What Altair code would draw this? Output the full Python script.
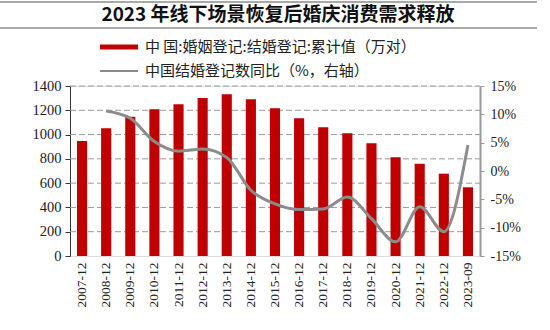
import altair as alt
import pandas as pd

periods = ["2007-12", "2008-12", "2009-12", "2010-12", "2011-12", "2012-12", "2013-12",
           "2014-12", "2015-12", "2016-12", "2017-12", "2018-12", "2019-12", "2020-12",
           "2021-12", "2022-12", "2023-09"]
marriages = [947, 1052, 1147, 1208, 1249, 1301, 1332, 1291, 1216, 1134, 1060, 1011, 928,
             813, 760, 678, 566]
yoy = [None, 10.6, 9.3, 5.2, 3.5, 3.9, 2.4, -3.4, -5.8, -6.8, -6.7, -4.6, -8.4, -12.5,
       -6.3, -10.7, 4.6]
grid_levels = [200, 400, 600, 800, 1000, 1200, 1400]

title_text = "2023 年线下场景恢复后婚庆消费需求释放"
legend_bar = "中 国:婚姻登记:结婚登记:累计值（万对）"
legend_line = "中国结婚登记数同比（%，右轴）"

df = pd.DataFrame({"period": periods, "marriages": marriages, "yoy": yoy})
gdf = pd.DataFrame({"v": grid_levels})

W, H = 410, 170
SERIF = "Liberation Serif"
CJK = "Noto Sans CJK SC"

xenc = alt.X("period:N", sort=periods, title=None,
             scale=alt.Scale(paddingInner=0.58, paddingOuter=0.29),
             axis=alt.Axis(labelAngle=-90, labelFont=SERIF, labelFontSize=13.5,
                           labelColor="#222", domain=False, ticks=False,
                           labelPadding=6, labelBaseline="middle"))

yleft = alt.Scale(domain=[0, 1400])
left_axis = alt.Axis(values=[0, 200, 400, 600, 800, 1000, 1200, 1400], format="d",
                     labelFont=SERIF, labelFontSize=14.5, labelColor="#222",
                     domainColor="#333", tickColor="#333", tickSize=5,
                     grid=False, labelPadding=4)

grid = alt.Chart(gdf).mark_rule(color="#999999", strokeWidth=1, strokeDash=[6, 3]).encode(
    y=alt.Y("v:Q", scale=yleft, title=None, axis=None),
    x=alt.value(0), x2=alt.value(W),
)

bars = alt.Chart(df).mark_bar(color="#c00000").encode(
    x=xenc,
    y=alt.Y("marriages:Q", scale=yleft, title=None, axis=left_axis),
)

left = alt.layer(grid, bars).resolve_axis(y="independent")

line = alt.Chart(df).mark_line(color="#8c8c8c", strokeWidth=3, interpolate="monotone").encode(
    x=alt.X("period:N", sort=periods),
    y=alt.Y("yoy:Q", scale=alt.Scale(domain=[-15, 15]), title=None,
            axis=alt.Axis(orient="right", values=[-15, -10, -5, 0, 5, 10, 15],
                          labelExpr="datum.value + '%'",
                          labelFont=SERIF, labelFontSize=14, labelColor="#222",
                          domainColor="#999", domainWidth=2, tickColor="#999",
                          tickSize=4, grid=False, labelPadding=6)),
)

# decorations: title lines, title, legend
deco_df = pd.DataFrame({"k": [0]})
base = alt.Chart(deco_df)
top_line = base.mark_rule(color="#555", strokeWidth=1.2).encode(
    x=alt.value(-70), x2=alt.value(467), y=alt.value(-84))
bot_line = base.mark_rule(color="#555", strokeWidth=1.2).encode(
    x=alt.value(-70), x2=alt.value(467), y=alt.value(-58))
title = base.mark_text(text=title_text, font=CJK, fontSize=19, fontWeight="bold",
                       color="#111", align="center", baseline="middle").encode(
    x=alt.value(208), y=alt.value(-71))
leg_rect = base.mark_rule(color="#c00000", strokeWidth=5).encode(
    x=alt.value(30), x2=alt.value(68), y=alt.value(-39))
leg_text1 = base.mark_text(text=legend_bar, font=CJK, fontSize=15, color="#222",
                           align="left", baseline="middle").encode(
    x=alt.value(75), y=alt.value(-39))
leg_line = base.mark_rule(color="#8c8c8c", strokeWidth=2).encode(
    x=alt.value(30), x2=alt.value(68), y=alt.value(-15))
leg_text2 = base.mark_text(text=legend_line, font=CJK, fontSize=15, color="#222",
                           align="left", baseline="middle").encode(
    x=alt.value(75), y=alt.value(-15))

main = alt.layer(left, line).resolve_scale(y="independent")

chart = alt.layer(main, top_line, bot_line, title, leg_rect, leg_text1, leg_line, leg_text2).properties(
    width=W, height=H,
    autosize=alt.AutoSizeParams(type="none"),
    padding={"left": 70, "top": 86, "right": 70, "bottom": 74},
).configure_view(stroke=None).configure(background="white")

chart.save("out.html", embed_options={"renderer": "svg", "actions": False})
